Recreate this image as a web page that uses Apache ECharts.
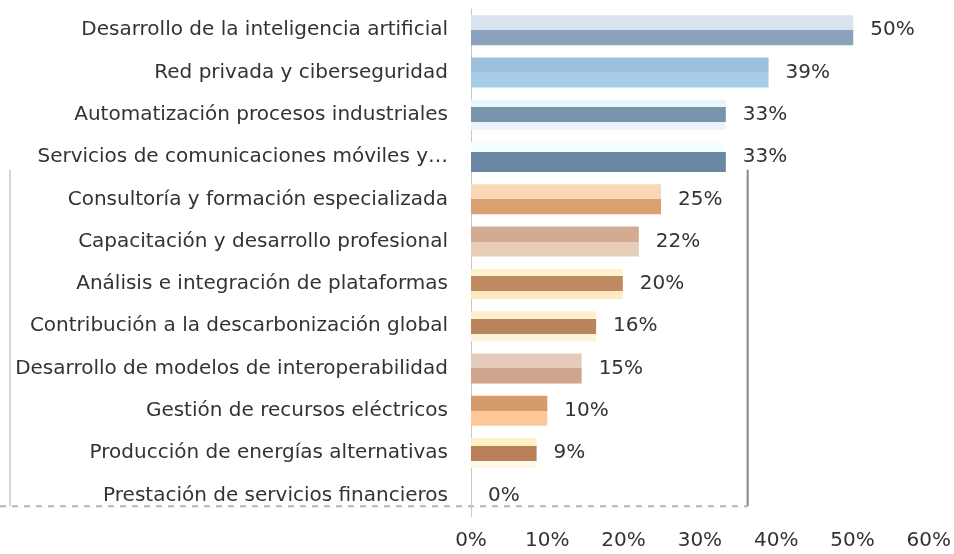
<!DOCTYPE html>
<html><head><meta charset="utf-8">
<script src="https://cdn.jsdelivr.net/npm/echarts@6/dist/echarts.min.js"></script>
<style>html,body{margin:0;padding:0;background:#fff}#c{width:954px;height:554px}</style>
</head><body><div id="c"></div>
<script>
// ---- data ----
const categories = [
  "Desarrollo de la inteligencia artificial",
  "Red privada y ciberseguridad",
  "Automatización procesos industriales",
  "Servicios de comunicaciones móviles y…",
  "Consultoría y formación especializada",
  "Capacitación y desarrollo profesional",
  "Análisis e integración de plataformas",
  "Contribución a la descarbonización global",
  "Desarrollo de modelos de interoperabilidad",
  "Gestión de recursos eléctricos",
  "Producción de energías alternativas",
  "Prestación de servicios financieros"
];
const values = [50.1, 39.0, 33.4, 33.4, 24.9, 22.0, 19.9, 16.4, 14.5, 10.0, 8.6, 0];
const xTickLabels = ["0%", "10%", "20%", "30%", "40%", "50%", "60%"];
const xMin = 0, xMax = 60, xInterval = 10;
const barColors = [
  ['#d8e3ee', '#8aa2bb'],
  ['#9dc0dd', '#a6cdea'],
  ['#e6f6fb', '#7a94ab', '#7a94ab', '#eef2fe'],
  ['#f5ffff', '#6a88a3', '#6a88a3'],
  ['#f9d7b7', '#d9a072'],
  ['#d3ab93', '#e6cdb8'],
  ['#fff0d0', '#bf8a5f', '#bf8a5f', '#ffeac0'],
  ['#fff0cc', '#b8845b', '#b8845b', '#fff3dc'],
  ['#e4cbba', '#cfa58d'],
  ['#d49a6c', '#fdc79a'],
  ['#fff0c8', '#b98059', '#b98059', '#fff8e8'],
  ['#b98059']
];
const frameValue = 36;
const frameFirstCategory = 4;

// ---- chart ----
function stripes(cols) {
  const n = cols.length, stops = [];
  cols.forEach((c, k) => { stops.push({offset: k / n, color: c}); stops.push({offset: (k + 1) / n, color: c}); });
  return new echarts.graphic.LinearGradient(0, 0, 0, 1, stops);
}
const FONT = 'DejaVu Sans';
const chart = echarts.init(document.getElementById('c'), null, {renderer: 'canvas'});
chart.setOption({
  animation: false,
  backgroundColor: '#ffffff',
  grid: {left: 471, right: 23, top: 9, bottom: 37.5, containLabel: false},
  xAxis: {
    type: 'value', min: xMin, max: xMax, interval: xInterval,
    axisLabel: {fontFamily: FONT, fontSize: 20, color: '#333', margin: 14,
      formatter: (v) => xTickLabels[Math.round((v - xMin) / xInterval)]},
    splitLine: {show: false}, axisLine: {show: false}, axisTick: {show: false}
  },
  yAxis: {
    type: 'category', data: categories, inverse: true,
    axisLabel: {fontFamily: FONT, fontSize: 20, color: '#333', margin: 23},
    axisLine: {show: true, lineStyle: {color: '#c8c8c8', width: 1}},
    axisTick: {show: false}
  },
  series: [{
    type: 'bar', barWidth: 30,
    data: values.map((v, i) => ({value: v, itemStyle: {color: stripes(barColors[i])}})),
    label: {show: true, position: 'right', distance: 17, fontFamily: FONT, fontSize: 20, color: '#333',
      formatter: (p) => Math.round(p.value) + '%'}
  }]
});

// decorative frame around the lower group, positioned from the axes
const pA = chart.convertToPixel({gridIndex: 0}, [frameValue, categories[frameFirstCategory]]);
const p0 = chart.convertToPixel({gridIndex: 0}, [0, categories[0]]);
const p1 = chart.convertToPixel({gridIndex: 0}, [0, categories[1]]);
const pL = chart.convertToPixel({gridIndex: 0}, [0, categories[categories.length - 1]]);
const pitch = p1[1] - p0[1];
const topY = pA[1] - pitch * 0.7;
const botY = pL[1] + pitch * 0.26;
chart.setOption({
  graphic: [
    {type: 'line', shape: {x1: 10, y1: topY, x2: 10, y2: botY}, style: {stroke: '#c4cab4', lineWidth: 1.5}},
    {type: 'line', shape: {x1: pA[0] + 2, y1: topY, x2: pA[0] + 2, y2: botY}, style: {stroke: '#85877a', lineWidth: 2}},
    {type: 'line', shape: {x1: 0, y1: botY, x2: pA[0] + 2, y2: botY}, style: {stroke: '#b4b4b4', lineWidth: 2, lineDash: [6, 6]}}
  ]
});
</script></body></html>
